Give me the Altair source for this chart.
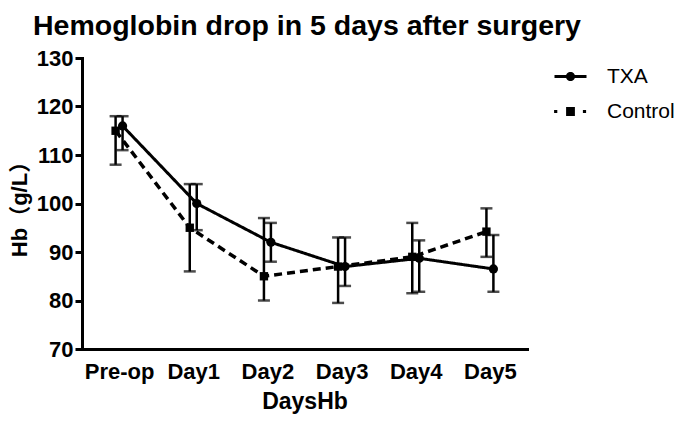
import altair as alt
import pandas as pd

categories = ["Pre-op", "Day1", "Day2", "Day3", "Day4", "Day5"]
groups = ["TXA", "Control"]
txa_mean = [116, 100, 92, 87, 88.7, 86.5]
txa_low = [111, 94.5, 88, 83, 81.8, 81.8]
txa_high = [118, 104, 96, 93, 92.4, 93.5]
control_mean = [115, 95, 85, 87, 89, 94.2]
control_low = [108, 86, 80, 79.5, 81.5, 89]
control_high = [118, 104, 97, 93, 96, 99]
y_ticks = [70, 80, 90, 100, 110, 120, 130]

rows = []
for i, c in enumerate(categories):
    rows.append(dict(day=c, idx=i, group="TXA", mean=txa_mean[i], low=txa_low[i], high=txa_high[i]))
    rows.append(dict(day=c, idx=i, group="Control", mean=control_mean[i], low=control_low[i], high=control_high[i]))
df = pd.DataFrame(rows)

FONT = "Liberation Sans, Arial, Noto Sans CJK SC"
OFF = 0.047

base = alt.Chart(df).transform_calculate(
    pos=f"datum.idx + (datum.group == 'TXA' ? {OFF} : -{OFF})"
)

label_expr = "[" + ",".join(f"'{c}'" for c in categories) + "][datum.value]"
x_axis = alt.Axis(values=list(range(len(categories))), labelExpr=label_expr, title="DaysHb",
                  ticks=False, grid=False)
y_axis = alt.Axis(values=y_ticks, title="Hb（g/L）", grid=False)
x_enc = alt.X("pos:Q", scale=alt.Scale(domain=[-0.5, len(categories) - 0.5], nice=False, zero=False), axis=x_axis)
y_scale = alt.Scale(domain=[70, 130], nice=False, zero=False)


def ye(field):
    return alt.Y(f"{field}:Q", scale=y_scale, axis=y_axis)


layers = []
styles = {
    "TXA": dict(dash=[1, 0], width=3, shape="circle", size=85),
    "Control": dict(dash=[8, 5], width=3.5, shape="square", size=70),
}
for g in groups:
    s = styles[g]
    b = base.transform_filter(alt.datum.group == g)
    layers.append(b.mark_line(color="black", strokeWidth=s["width"], strokeDash=s["dash"]).encode(x=x_enc, y=ye("mean")))
    layers.append(b.mark_rule(color="black", strokeWidth=2.5).encode(x=x_enc, y=ye("low"), y2="high:Q"))
    layers.append(b.mark_tick(color="black", orient="horizontal", size=12, thickness=2.5).encode(x=x_enc, y=ye("low")))
    layers.append(b.mark_tick(color="black", orient="horizontal", size=12, thickness=2.5).encode(x=x_enc, y=ye("high")))
    layers.append(b.mark_point(color="black", filled=True, opacity=1, shape=s["shape"], size=s["size"]).encode(x=x_enc, y=ye("mean")))

# legend glyphs: filled shapes only (line drawn as thin rectangles)
txa_path = ("M-4,-0.38L4,-0.38L4,0.38L-4,0.38Z"
            "M-1.15,0A1.15,1.15,0,1,1,1.15,0A1.15,1.15,0,1,1,-1.15,0Z")
ctrl_path = ("M-4.1,-0.4L-3.3,-0.4L-3.3,0.4L-4.1,0.4Z"
             "M3.1,-0.4L3.9,-0.4L3.9,0.4L3.1,0.4Z"
             "M-1.1,-1.1L1.1,-1.1L1.1,1.1L-1.1,1.1Z")

legend_layer = base.mark_point(filled=True, color="black", opacity=0).encode(
    x=x_enc, y=ye("mean"),
    shape=alt.Shape("group:N", scale=alt.Scale(domain=groups, range=[txa_path, ctrl_path]),
                    legend=alt.Legend(title=None, orient="none", legendX=478, legendY=8,
                                      labelFont=FONT, labelFontSize=21, labelColor="black",
                                      symbolSize=64, symbolFillColor="black",
                                      symbolStrokeWidth=0, symbolOpacity=1, labelOffset=26,
                                      rowPadding=13, padding=0)),
    size=alt.value(64),
)
layers.append(legend_layer)

chart = alt.layer(*layers).properties(
    width=445, height=291,
    autosize=alt.AutoSizeParams(type="none"),
    padding={"left": 74, "top": 50, "right": 150, "bottom": 65},
    title=alt.TitleParams("Hemoglobin drop in 5 days after surgery", anchor="start", frame="group",
                          font=FONT, fontSize=28.5, fontWeight="bold", color="black", dx=-49, offset=7),
).configure_view(stroke=None).configure_axis(
    domainColor="black", domainWidth=3, domainCap="square", tickColor="black", tickWidth=3,
    labelFont=FONT, labelFontSize=22, labelFontWeight="bold", labelColor="black",
    titleFont=FONT, titleFontSize=23, titleFontWeight="bold", titleColor="black",
).configure_axisY(tickSize=7, labelPadding=2, titlePadding=5, titleFontSize=22).configure_axisX(labelPadding=12, titlePadding=8)

chart.save("out.html", embed_options={"renderer": "svg", "actions": False})
